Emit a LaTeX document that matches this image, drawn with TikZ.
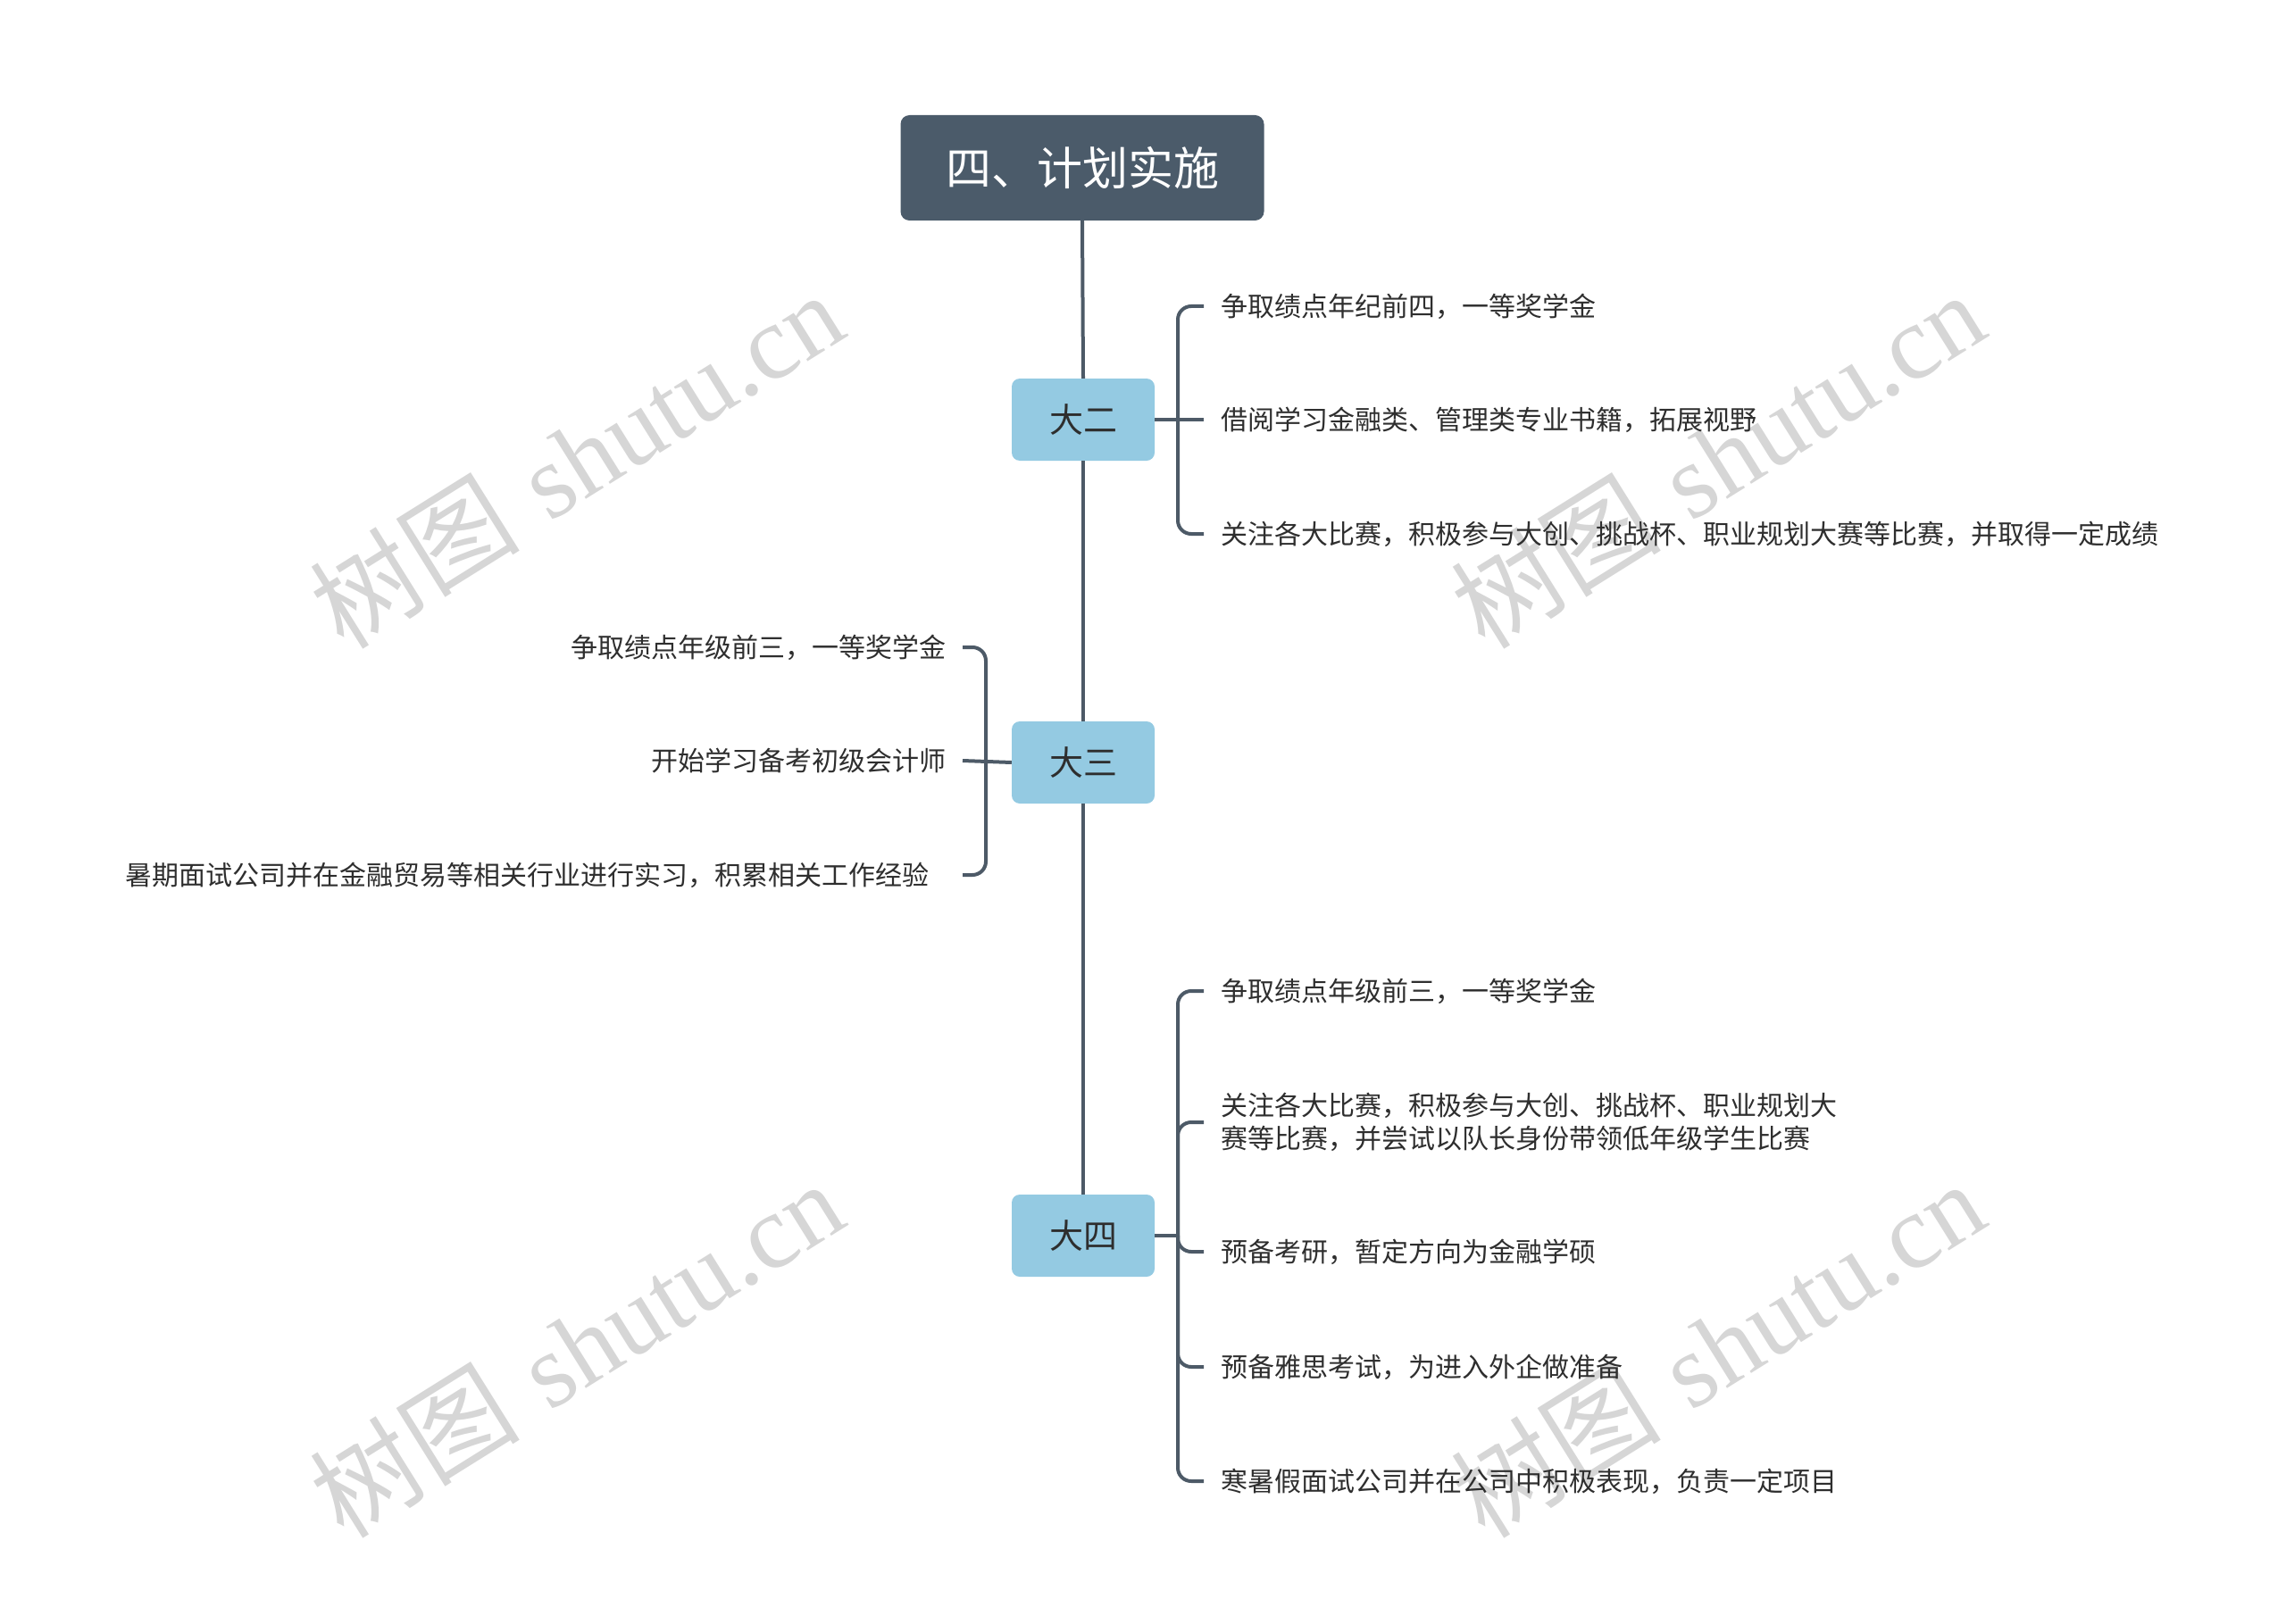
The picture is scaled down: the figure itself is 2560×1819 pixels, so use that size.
\documentclass[tikz,border=0pt]{standalone}
\usepackage{fontspec}
\newfontfamily\cjk{Noto Sans CJK SC}
\newfontfamily\wmserif{Liberation Serif}
\definecolor{rootc}{HTML}{4B5B6A}
\definecolor{brc}{HTML}{94CAE2}
\definecolor{lc}{HTML}{4D5A67}
\definecolor{txt}{HTML}{2E2E2E}
\definecolor{wmc}{HTML}{D6D6D6}
\begin{document}
\begin{tikzpicture}[x=1pt,y=-1pt,
  conn/.style={draw=lc, line width=4pt},
  bracket/.style={conn, rounded corners=15pt},
  rootbox/.style={rectangle, rounded corners=10pt, fill=rootc, minimum width=407pt, minimum height=118pt, inner sep=0pt, text=white, font=\cjk\fontsize{51}{60}\selectfont},
  branch/.style={rectangle, rounded corners=9pt, fill=brc, minimum width=160pt, minimum height=92pt, inner sep=0pt, text=txt, font=\cjk\fontsize{38}{44}\selectfont},
  leaf/.style={inner sep=0pt, text=txt, font=\cjk\fontsize{30}{37}\selectfont},
  wm/.style={text=wmc, inner sep=0pt, rotate=32, font=\fontsize{118}{130}\selectfont}
]
\useasboundingbox (0,0) rectangle (2560,1819);
% watermarks
\node[wm] (w1) at (645,514) {{\cjk 树图} {\wmserif shutu.cn}};
\node[wm] (w2) at (1923,514) {{\cjk 树图} {\wmserif shutu.cn}};
\node[wm] (w3) at (645,1510) {{\cjk 树图} {\wmserif shutu.cn}};
\node[wm] (w4) at (1923,1510) {{\cjk 树图} {\wmserif shutu.cn}};

% main nodes
\node[rootbox] (root) at (1212,188) {四、计划实施};
\node[branch] (b2) at (1213,470) {大二};
\node[branch] (b3) at (1213,854) {大三};
\node[branch] (b4) at (1213,1384) {大四};

\draw[conn] (root.south) -- (b2.north);
\draw[conn] (b2.south) -- (b3.north);
\draw[conn] (b3.south) -- (b4.north);

% 大二 children
\node[leaf, anchor=west] (a1) at (1367,343) {争取绩点年纪前四，一等奖学金};
\node[leaf, anchor=west] (a2) at (1367,470) {借阅学习金融类、管理类专业书籍，拓展视野};
\node[leaf, anchor=west] (a3) at (1367,598) {关注各大比赛，积极参与大创、挑战杯、职业规划大赛等比赛，并取得一定成绩};
\coordinate (j2) at (1319,470);
\draw[bracket] ([xshift=-19pt]a1.west) -| (j2) |- ([xshift=-19pt]a3.west);
\draw[conn] (b2.east) -- ([xshift=-19pt]a2.west);

% 大三 children
\node[leaf, anchor=east] (c1) at (1060,725) {争取绩点年级前三，一等奖学金};
\node[leaf, anchor=east] (c2) at (1060,852) {开始学习备考初级会计师};
\node[leaf, anchor=east] (c3) at (1041,980) {暑期面试公司并在金融贸易等相关行业进行实习，积累相关工作经验};
\coordinate (j3) at (1104,852);
\coordinate (t1) at (1078,725);
\coordinate (t2) at (1078,852);
\coordinate (t3) at (1078,980);
\draw[bracket] (t1) -| (j3) |- (t3);
\draw[conn] (b3.west) -- (t2);

% 大四 children
\node[leaf, anchor=west] (d1) at (1367,1110) {争取绩点年级前三，一等奖学金};
\node[leaf, anchor=west, align=left] (d2) at (1367,1257) {关注各大比赛，积极参与大创、挑战杯、职业规划大\\赛等比赛，并尝试以队长身份带领低年级学生比赛};
\node[leaf, anchor=west] (d3) at (1367,1402) {预备考研，暂定方向为金融学硕};
\node[leaf, anchor=west] (d4) at (1367,1531) {预备雅思考试，为进入外企做准备};
\node[leaf, anchor=west] (d5) at (1367,1659) {寒暑假面试公司并在公司中积极表现，负责一定项目};
\coordinate (j4) at (1319,1384);
\draw[bracket] ([xshift=-19pt]d1.west) -| (j4) |- ([xshift=-19pt]d5.west);
\draw[bracket] (j4) |- ([xshift=-19pt]d2.west);
\draw[bracket] (j4) |- ([xshift=-19pt]d3.west);
\draw[bracket] (j4) |- ([xshift=-19pt]d4.west);
\draw[conn] (b4.east) -- (j4);
\end{tikzpicture}
\end{document}
